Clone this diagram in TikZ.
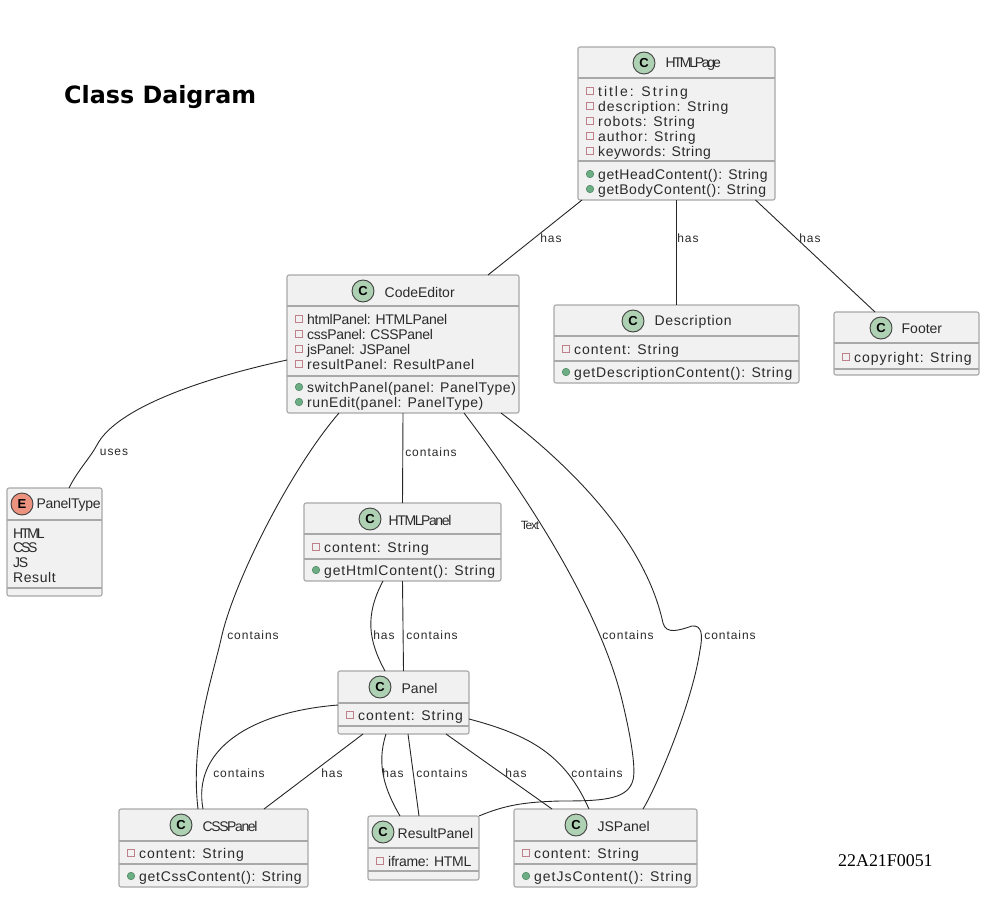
\documentclass[tikz,border=0pt]{standalone}
\usepackage{fontspec}
\setmainfont{Liberation Sans}
\newfontfamily\memberfont[LetterSpace=4]{Liberation Sans}
\newfontfamily\cssfont[LetterSpace=5]{Liberation Sans}
\newfontfamily\methfont[LetterSpace=6]{Liberation Sans}
\newfontfamily\midfont[LetterSpace=7]{Liberation Sans}
\newfontfamily\widefont[LetterSpace=14]{Liberation Sans}
\newfontfamily\snugfont[LetterSpace=-2]{Liberation Sans}
\newfontfamily\tightfont[LetterSpace=-10]{Liberation Sans}
\newfontfamily\squeezefont[LetterSpace=-16]{Liberation Sans}
\newfontfamily\labelfont[LetterSpace=8]{Liberation Sans}
\newfontfamily\titlefont{DejaVu Sans}
\newfontfamily\idfont{Liberation Serif}
\definecolor{boxfill}{HTML}{F1F1F1}
\definecolor{boxline}{HTML}{A8A8A8}
\definecolor{classgreen}{HTML}{ADD1B2}
\definecolor{enumred}{HTML}{EB937F}
\definecolor{textgrey}{HTML}{2A2A2A}
\definecolor{privred}{HTML}{C0808A}
\definecolor{pubgreen}{HTML}{6CAE84}
\tikzset{
	classbox/.style = {draw=boxline, fill=boxfill, line width=1.1pt, rounded corners=2pt, inner sep=0pt, outer sep=0pt},
	sepline/.style = {draw=boxline, line width=1.1pt},
	badge/.style = {draw=black!75, circle, line width=0.9pt, minimum size=22pt, inner sep=0pt, font=\fontsize{13}{13}\selectfont\bfseries},
	headtext/.style = {anchor=west, inner sep=0pt, text=textgrey, font=\fontsize{14}{14}\selectfont},
	rowtext/.style = {anchor=west, inner sep=0pt, text height=10pt, text depth=3pt, text=textgrey, font=\fontsize{14}{14}\memberfont},
	privmark/.style = {draw=privred, fill=boxfill, rectangle, line width=1.3pt, minimum size=7.5pt, inner sep=0pt},
	pubmark/.style = {draw=pubgreen!80!black, fill=pubgreen, circle, line width=0.6pt, minimum size=7.5pt, inner sep=0pt},
	rel/.style = {draw=black!85, line width=0.9pt},
	rellabel/.style = {inner sep=0pt, text=textgrey, font=\fontsize{12}{12}\labelfont},
}
% #1 box, #2 x of the badge, #3 badge letter, #4 badge colour, #5 title, #6 gap to the title
\newcommand{\classhead}[6]{
	\node[badge, fill=#4] (#1-badge) at ([xshift=#2pt, yshift=-16pt]#1.north west) {#3};
	\node[headtext] (#1-title) at ([xshift=#6pt, yshift=-1pt]#1-badge.east) {#5};
}
% #1 box, #2 first, #3 second separator
\newcommand{\classseps}[3]{
	\draw[sepline] ([yshift=-#2pt]#1.north west) -- ([yshift=-#2pt]#1.north east);
	\draw[sepline] ([yshift=-#3pt]#1.north west) -- ([yshift=-#3pt]#1.north east);
}
% #1 box, #2 row name, #3 y, #4 text
\newcommand{\attr}[4]{
	\node[privmark] (#1-#2m) at ([xshift=12pt, yshift=-#3pt]#1.north west) {};
	\node[rowtext] (#1-#2) at ([xshift=8pt, yshift=-2pt]#1-#2m.center) {#4};
}
\newcommand{\meth}[4]{
	\node[pubmark] (#1-#2m) at ([xshift=12pt, yshift=-#3pt]#1.north west) {};
	\node[rowtext] (#1-#2) at ([xshift=8pt, yshift=-2pt]#1-#2m.center) {#4};
}
\begin{document}
\begin{tikzpicture}[x=1pt, y=-1pt]
	\useasboundingbox (0,0) rectangle (987,923);
	\node[anchor=west, inner sep=0pt, font=\fontsize{23.8}{24}\titlefont\bfseries] (heading) at (64,97) {Class Daigram};
	\node[anchor=west, inner sep=0pt, font=\fontsize{17.9}{18}\idfont] (studentid) at (838,861) {22A21F0051};
	% classes
	\node[classbox, minimum width=197pt, minimum height=153pt] (HTMLPage) at (676.5,123.5) {};
	\node[classbox, minimum width=232pt, minimum height=138pt] (CodeEditor) at (403,344) {};
	\node[classbox, minimum width=245pt, minimum height=78pt] (Description) at (676.5,344) {};
	\node[classbox, minimum width=145pt, minimum height=63pt] (Footer) at (906.5,343.5) {};
	\node[classbox, minimum width=95pt, minimum height=108pt] (PanelType) at (54.5,542) {};
	\node[classbox, minimum width=197pt, minimum height=78pt] (HTMLPanel) at (402.5,542) {};
	\node[classbox, minimum width=131pt, minimum height=63pt] (Panel) at (403.5,702.5) {};
	\node[classbox, minimum width=189pt, minimum height=78pt] (CSSPanel) at (213.5,848) {};
	\node[classbox, minimum width=111pt, minimum height=64pt] (ResultPanel) at (423.5,848) {};
	\node[classbox, minimum width=183pt, minimum height=78pt] (JSPanel) at (605.5,848) {};
	% compartments
	\classseps{HTMLPage}{31}{114}
	\classseps{CodeEditor}{31}{101}
	\classseps{Description}{31}{56}
	\classseps{Footer}{31}{57}
	\classseps{PanelType}{32}{100}
	\classseps{HTMLPanel}{31}{56}
	\classseps{Panel}{32}{55}
	\classseps{CSSPanel}{32}{55}
	\classseps{ResultPanel}{32}{55}
	\classseps{JSPanel}{32}{55}
	% headers
	\classhead{HTMLPage}{66}{C}{classgreen}{\squeezefont HTMLPage}{10}
	\classhead{CodeEditor}{76}{C}{classgreen}{CodeEditor}{10}
	\classhead{Description}{79}{C}{classgreen}{\cssfont Description}{10}
	\classhead{Footer}{47}{C}{classgreen}{Footer}{9}
	\classhead{PanelType}{15}{E}{enumred}{\snugfont PanelType}{3}
	\classhead{HTMLPanel}{66}{C}{classgreen}{\tightfont HTMLPanel}{7}
	\classhead{Panel}{42}{C}{classgreen}{Panel}{10}
	\classhead{CSSPanel}{62}{C}{classgreen}{\tightfont CSSPanel}{10}
	\classhead{ResultPanel}{15}{C}{classgreen}{ResultPanel}{3}
	\classhead{JSPanel}{62}{C}{classgreen}{JSPanel}{10}
	% members
	\attr{HTMLPage}{a}{44}{\widefont title: String}
	\attr{HTMLPage}{b}{59}{\midfont description: String}
	\attr{HTMLPage}{c}{74}{\midfont robots: String}
	\attr{HTMLPage}{d}{89}{\midfont author: String}
	\attr{HTMLPage}{e}{104}{keywords: String}
	\meth{HTMLPage}{f}{127}{getHeadContent(): String}
	\meth{HTMLPage}{g}{142}{getBodyContent(): String}
	\attr{CodeEditor}{a}{44}{\snugfont htmlPanel: HTMLPanel}
	\attr{CodeEditor}{b}{59}{\snugfont cssPanel: CSSPanel}
	\attr{CodeEditor}{c}{74}{\snugfont jsPanel: JSPanel}
	\attr{CodeEditor}{d}{89}{resultPanel: ResultPanel}
	\meth{CodeEditor}{e}{112}{switchPanel(panel: PanelType)}
	\meth{CodeEditor}{f}{127}{runEdit(panel: PanelType)}
	\attr{Description}{a}{44}{\midfont content: String}
	\meth{Description}{b}{67}{\methfont getDescriptionContent(): String}
	\attr{Footer}{a}{45}{\midfont copyright: String}
	\attr{HTMLPanel}{a}{44}{\midfont content: String}
	\meth{HTMLPanel}{b}{67}{\methfont getHtmlContent(): String}
	\attr{Panel}{a}{44}{\midfont content: String}
	\attr{CSSPanel}{a}{44}{\midfont content: String}
	\meth{CSSPanel}{b}{67}{\cssfont getCssContent(): String}
	\attr{ResultPanel}{a}{45}{\snugfont iframe: HTML}
	\attr{JSPanel}{a}{44}{\midfont content: String}
	\meth{JSPanel}{b}{67}{\midfont getJsContent(): String}
	\node[rowtext, font=\fontsize{14}{14}\squeezefont] (PanelType-a) at ([xshift=6pt, yshift=-47pt]PanelType.north west) {HTML};
	\node[rowtext, font=\fontsize{14}{14}\squeezefont] (PanelType-b) at ([xshift=6pt, yshift=-61pt]PanelType.north west) {CSS};
	\node[rowtext, font=\fontsize{14}{14}\tightfont] (PanelType-c) at ([xshift=6pt, yshift=-76pt]PanelType.north west) {JS};
	\node[rowtext] (PanelType-d) at ([xshift=6pt, yshift=-91pt]PanelType.north west) {Result};
	% relations
	\draw[rel] ([xshift=85pt]CodeEditor.north) -- ([xshift=-94.5pt]HTMLPage.south);
	\draw[rel] (HTMLPage.south) -- (Description.north);
	\draw[rel] ([xshift=79pt]HTMLPage.south) -- ([xshift=-31.5pt]Footer.north);
	\draw[rel] ([yshift=-16pt]CodeEditor.west) .. controls (195,380) and (115,410) .. (97,445) .. controls (90,458) and (78,470) .. ([xshift=14.5pt]PanelType.north);
	\draw[rel] ([xshift=-64pt]CodeEditor.south) .. controls (290,470) and (235,580) .. (222,635) .. controls (212,680) and (190,740) .. ([xshift=-15.5pt]CSSPanel.north);
	\draw[rel] (CodeEditor.south) -- (HTMLPanel.north);
	\draw[rel] ([xshift=61pt]CodeEditor.south) .. controls (530,500) and (600,610) .. (622,700) .. controls (634,750) and (636,775) .. (632,783) .. controls (625,800) and (600,801) .. (560,801) .. controls (525,802) and (505,805) .. (ResultPanel.north east);
	\draw[rel] ([xshift=98pt]CodeEditor.south) .. controls (570,465) and (645,540) .. (663,623) .. controls (666,635) and (680,630) .. (692,626) .. controls (702,625) and (703,635) .. (700,650) .. controls (692,705) and (655,790) .. ([xshift=37.5pt]JSPanel.north);
	\draw[rel] ([xshift=-19.5pt]HTMLPanel.south) .. controls (365,615) and (368,640) .. ([xshift=-18.5pt]Panel.north);
	\draw[rel] (HTMLPanel.south) -- (Panel.north);
	\draw[rel] ([yshift=-2.5pt]Panel.west) .. controls (250,712) and (192,750) .. ([xshift=-10.5pt]CSSPanel.north);
	\draw[rel] ([xshift=-40.5pt]Panel.south) -- ([xshift=50.5pt]CSSPanel.north);
	\draw[rel] ([xshift=-17.5pt]Panel.south) .. controls (376,765) and (385,790) .. ([xshift=-23.5pt]ResultPanel.north);
	\draw[rel] ([xshift=4.5pt]Panel.south) -- ([xshift=-4.5pt]ResultPanel.north);
	\draw[rel] ([xshift=42.5pt]Panel.south) -- ([xshift=-53.5pt]JSPanel.north);
	\draw[rel] ([yshift=-16.5pt]Panel.east) .. controls (530,735) and (565,755) .. ([xshift=-16.5pt]JSPanel.north);
	% labels
	\node[rellabel] (lab-a) at (551,238) {has};
	\node[rellabel] (lab-b) at (688,238) {has};
	\node[rellabel] (lab-c) at (810,238) {has};
	\node[rellabel] (lab-d) at (114,452) {uses};
	\node[rellabel] (lab-e) at (431,452) {contains};
	\node[inner sep=0pt, text=textgrey, font=\fontsize{12}{12}\tightfont] (lab-f) at (530,525) {Text};
	\node[rellabel] (lab-g) at (253,635) {contains};
	\node[rellabel] (lab-h) at (384,635) {has};
	\node[rellabel] (lab-i) at (432,635) {contains};
	\node[rellabel] (lab-j) at (628,635) {contains};
	\node[rellabel] (lab-k) at (730,635) {contains};
	\node[rellabel] (lab-l) at (239,773) {contains};
	\node[rellabel] (lab-m) at (332,773) {has};
	\node[rellabel] (lab-n) at (393,773) {has};
	\node[rellabel] (lab-o) at (442,773) {contains};
	\node[rellabel] (lab-p) at (516,773) {has};
	\node[rellabel] (lab-q) at (597,773) {contains};
\end{tikzpicture}
\end{document}
